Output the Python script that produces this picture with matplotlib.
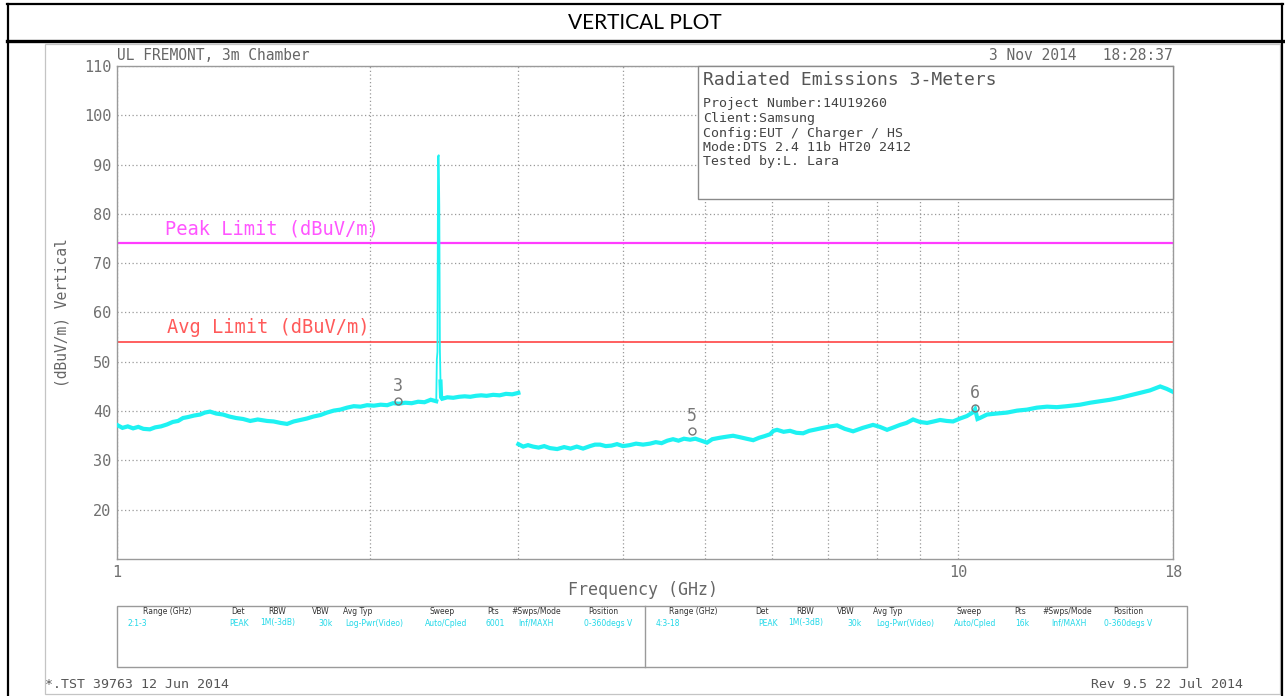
"""Radiated emissions sweep, vertical polarisation, 1-18 GHz."""

import matplotlib

matplotlib.use("Agg")
import matplotlib.pyplot as plt
import numpy as np
from matplotlib.patches import Rectangle

MONO = "DejaVu Sans Mono"
TRACE = "#1ef2f2"
GRAY_TXT = "#666666"

# 1-3 GHz sweep (GHz, dBuV/m), carrier at 2.412 GHz
low_freq = [1.000, 1.015, 1.030, 1.045, 1.060, 1.075, 1.094, 1.110, 1.128, 1.147,
            1.165, 1.182, 1.198, 1.215, 1.235, 1.255, 1.272, 1.290, 1.312, 1.337,
            1.360, 1.385, 1.412, 1.440, 1.470, 1.508, 1.535, 1.565, 1.593, 1.622,
            1.652, 1.682, 1.712, 1.745, 1.777, 1.810, 1.843, 1.877, 1.912, 1.947,
            1.983, 2.020, 2.058, 2.095, 2.129, 2.165, 2.200, 2.240, 2.280, 2.320,
            2.360, 2.396, 2.400, 2.404, 2.408, 2.412, 2.416, 2.420, 2.424, 2.428,
            2.435, 2.470, 2.510, 2.550, 2.590, 2.630, 2.670, 2.710, 2.750, 2.800,
            2.850, 2.900, 2.950, 3.000]
low_level = [37.2, 36.6, 36.9, 36.5, 36.8, 36.4, 36.3, 36.7, 36.9, 37.3,
             37.8, 38.0, 38.6, 38.8, 39.1, 39.3, 39.7, 39.9, 39.5, 39.3,
             38.9, 38.6, 38.4, 38.0, 38.3, 38.0, 37.9, 37.6, 37.4, 37.9,
             38.2, 38.5, 38.9, 39.2, 39.7, 40.1, 40.3, 40.7, 41.0, 40.9,
             41.2, 41.1, 41.3, 41.2, 41.6, 41.5, 41.7, 41.6, 41.9, 41.8,
             42.3, 42.0, 50.5, 52.0, 91.6, 91.9, 81.5, 52.5, 46.0, 42.8,
             42.5, 42.8, 42.7, 42.9, 43.0, 42.9, 43.1, 43.2, 43.1, 43.3,
             43.2, 43.5, 43.4, 43.7]

# 3-18 GHz sweep
high_freq = [3.000, 3.040, 3.080, 3.123, 3.170, 3.220, 3.270, 3.336, 3.400, 3.460,
             3.520, 3.581, 3.650, 3.700, 3.752, 3.810, 3.870, 3.930, 3.995, 4.070,
             4.140, 4.220, 4.301, 4.370, 4.440, 4.510, 4.581, 4.650, 4.720, 4.800,
             4.870, 4.950, 5.027, 5.100, 5.210, 5.300, 5.399, 5.503, 5.600, 5.705,
             5.800, 5.880, 5.974, 6.030, 6.090, 6.200, 6.310, 6.420, 6.540, 6.650,
             6.780, 6.908, 7.050, 7.177, 7.330, 7.499, 7.700, 7.919, 8.070, 8.229,
             8.380, 8.527, 8.680, 8.837, 9.000, 9.182, 9.350, 9.514, 9.690, 9.858,
             10.05, 10.24, 10.40, 10.47, 10.54, 10.61, 10.82, 11.10, 11.43, 11.75,
             12.07, 12.40, 12.75, 13.10, 13.47, 13.96, 14.35, 14.74, 15.15, 15.57,
             16.00, 16.45, 16.90, 17.38, 17.70, 18.00]
high_level = [33.3, 32.8, 33.1, 32.8, 32.6, 32.9, 32.5, 32.3, 32.7, 32.4,
              32.8, 32.4, 32.9, 33.2, 33.2, 32.9, 33.0, 33.3, 32.9, 33.1,
              33.4, 33.2, 33.4, 33.7, 33.5, 34.0, 34.3, 34.0, 34.4, 34.2,
              34.4, 34.0, 33.6, 34.3, 34.6, 34.8, 35.0, 34.7, 34.4, 34.1,
              34.6, 34.9, 35.3, 36.0, 36.2, 35.8, 36.0, 35.6, 35.5, 36.0,
              36.3, 36.6, 36.9, 37.1, 36.4, 35.9, 36.6, 37.2, 36.8, 36.2,
              36.7, 37.2, 37.6, 38.3, 37.8, 37.6, 37.9, 38.2, 38.0, 37.9,
              38.5, 39.0, 39.7, 40.4, 38.4, 38.6, 39.3, 39.5, 39.7, 40.1,
              40.3, 40.7, 40.9, 40.8, 41.0, 41.3, 41.7, 42.0, 42.3, 42.7,
              43.2, 43.7, 44.2, 45.0, 44.5, 43.9]

peak_limit = 74.0
avg_limit = 54.0

marker_ids = ["3", "5", "6"]
marker_freq = [2.158, 4.826, 10.47]
marker_level = [42.1, 36.0, 40.7]

info_lines = [
    "Project Number:14U19260",
    "Client:Samsung",
    "Config:EUT / Charger / HS",
    "Mode:DTS 2.4 11b HT20 2412",
    "Tested by:L. Lara",
]

table_headers = ["Range (GHz)", "Det", "RBW", "VBW", "Avg Typ", "Sweep", "Pts",
                 "#Swps/Mode", "Position"]
left_values = ["2:1-3", "PEAK", "1M(-3dB)", "30k", "Log-Pwr(Video)", "Auto/Cpled",
               "6001", "Inf/MAXH", "0-360degs V"]
right_values = ["4:3-18", "PEAK", "1M(-3dB)", "30k", "Log-Pwr(Video)", "Auto/Cpled",
                "16k", "Inf/MAXH", "0-360degs V"]
left_header_x = [167, 238, 277, 321, 358, 442, 493, 536, 603]
left_value_x = [127, 229, 260, 318, 345, 425, 486, 518, 584]
right_header_x = [693, 762, 805, 846, 888, 969, 1020, 1067, 1128]
right_value_x = [656, 758, 788, 847, 876, 954, 1015, 1051, 1104]

W, H = 1285, 696
fig = plt.figure(figsize=(W / 100, H / 100), dpi=100)
fig.patch.set_facecolor("white")

# main plot area
ax = fig.add_axes([117 / W, 1 - 559 / H, 1056 / W, 493 / H])
ax.set_xscale("log")
ax.set_xlim(1, 18)
ax.set_ylim(10, 110)

# noise floor drawn heavy, the carrier itself as a thin line
low_lv = np.array(low_level)
floor_lv = np.where(low_lv > 48, np.nan, low_lv)
ax.plot(low_freq, low_level, color=TRACE, lw=1.3, zorder=3)
ax.plot(low_freq, floor_lv, color=TRACE, lw=3.0, solid_joinstyle="miter", zorder=3)
ax.plot(high_freq, high_level, color=TRACE, lw=3.0, solid_joinstyle="miter", zorder=3)

ax.axhline(peak_limit, color="#ff3cff", lw=1.6, zorder=2)
ax.axhline(avg_limit, color="#ff4444", lw=1.2, zorder=2)
ax.text(1.14, peak_limit + 1.0, "Peak Limit (dBuV/m)", family=MONO, fontsize=13.5,
        color="#ff55ff", va="bottom", ha="left")
ax.text(1.147, avg_limit + 1.0, "Avg Limit (dBuV/m)", family=MONO, fontsize=13.5,
        color="#ff5a5a", va="bottom", ha="left")

for mid, mf, ml in zip(marker_ids, marker_freq, marker_level):
    ax.plot([mf], [ml], marker="o", ms=5, mfc="none", mec="#777777", mew=1.0,
            zorder=4)
    ax.annotate(mid, (mf, ml), xytext=(0, 4), textcoords="offset points",
                ha="center", va="bottom", family=MONO, fontsize=12, color="#777777")

ax.set_xticks([1, 10, 18])
ax.set_xticklabels(["1", "10", "18"])
ax.set_xticks([2, 3, 4, 5, 6, 7, 8, 9], minor=True)
ax.xaxis.set_minor_formatter(matplotlib.ticker.NullFormatter())
ax.set_yticks(range(20, 111, 10))
ax.grid(True, which="both", axis="x", color="#999999", ls=(0, (1, 2)), lw=0.9)
ax.grid(True, which="major", axis="y", color="#999999", ls=(0, (1, 2)), lw=0.9)
ax.tick_params(which="both", length=0, labelsize=11, labelcolor="#707070", pad=4)
for lab in ax.get_xticklabels() + ax.get_yticklabels():
    lab.set_family(MONO)
for side in ax.spines.values():
    side.set_color("#9a9a9a")
    side.set_linewidth(1.0)

# page furniture drawn in pixel coordinates on top
ov = fig.add_axes([0, 0, 1, 1])
ov.set_xlim(0, W)
ov.set_ylim(H, 0)
ov.axis("off")

ov.plot([7, 1283], [4, 4], color="black", lw=1.6)
ov.plot([8, 8], [4, H], color="black", lw=1.6)
ov.plot([1282, 1282], [4, H], color="black", lw=1.6)
ov.plot([7, 1283], [41, 41], color="black", lw=2.4)
ov.text(645, 23, "VERTICAL PLOT", family="Lato", fontsize=15, ha="center",
        va="center", color="black")

ov.add_patch(Rectangle((45, 44), 1235, 650, fill=False, ec="#c4c4c4", lw=0.9))

ov.text(117, 55, "UL FREMONT, 3m Chamber", family=MONO, fontsize=10.5,
        color=GRAY_TXT, va="center")
ov.text(1173, 55, "3 Nov 2014   18:28:37", family=MONO, fontsize=10.5,
        color=GRAY_TXT, va="center", ha="right")
ov.text(643, 590, "Frequency (GHz)", family=MONO, fontsize=12, color=GRAY_TXT,
        ha="center", va="center")
ov.text(62, 313, "(dBuV/m) Vertical", family=MONO, fontsize=10.5, color=GRAY_TXT,
        ha="center", va="center", rotation=90)

# test info box
ov.add_patch(Rectangle((698, 66), 475, 133, fc="white", ec="#8a8a8a", lw=1.0))
ov.text(703, 80, "Radiated Emissions 3-Meters", family=MONO, fontsize=13,
        color="#555555", va="center")
for i, line in enumerate(info_lines):
    ov.text(703, 104 + i * 14.5, line, family=MONO, fontsize=9.5, color="#444444",
            va="center")

# sweep settings table
ov.add_patch(Rectangle((117, 606), 1070, 61, fill=False, ec="#9a9a9a", lw=1.0))
ov.plot([645, 645], [606, 667], color="#9a9a9a", lw=1.0)
for hx, name in zip(left_header_x + right_header_x, table_headers * 2):
    ov.text(hx, 612, name, fontsize=5.5, color="#333333", ha="center", va="center")
for vx, val in zip(left_value_x + right_value_x, left_values + right_values):
    ov.text(vx, 623, val, fontsize=5.5, color="#22d8e8", ha="left", va="center")

ov.text(45, 685, "*.TST 39763 12 Jun 2014", family=MONO, fontsize=9.5,
        color="#555555", va="center")
ov.text(1243, 685, "Rev 9.5 22 Jul 2014", family=MONO, fontsize=9.5,
        color="#555555", va="center", ha="right")

fig.savefig("out.png", dpi=100)
